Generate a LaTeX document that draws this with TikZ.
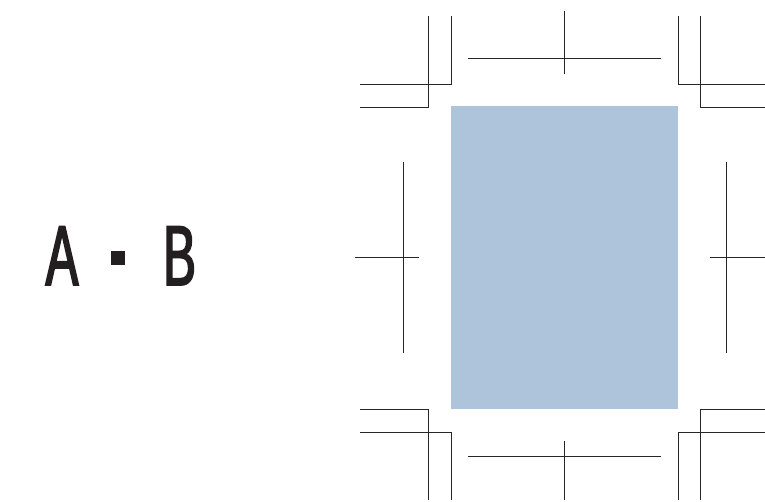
\documentclass[tikz,border=0pt]{standalone}
\usepackage{fontspec}
\usepackage{tikz}
\newfontfamily\condfont[FakeStretch=0.58, FakeBold=2]{Liberation Sans}
\definecolor{paperblue}{RGB}{173,196,219}
\definecolor{inkdark}{RGB}{35,31,32}
\tikzset{
	markline/.style={line width=0.7pt, color=black!85},
	bigletter/.style={inner sep=0pt, color=inkdark, font=\condfont\fontsize{85}{85}\selectfont}
}

\begin{document}
\begin{tikzpicture}[x=1pt, y=-1pt]
			%%%%% START %%%%%
			\useasboundingbox (0, 0) rectangle (765, 501);
			
			\node[bigletter, anchor=base] (a) at (62, 285) {A};
			\node[fill=inkdark, minimum size=14pt, inner sep=0pt] (dot) at (118, 257.5) {};
			\node[bigletter, anchor=base] (b) at (179.5, 285) {B};
			
			\fill[paperblue] (451, 106) rectangle (678, 409);
			
			% corner marks, top
			\draw[markline] (428, 16) -- (428, 107) -- (360, 107);
			\draw[markline] (451, 16) -- (451, 84) -- (360, 84);
			\draw[markline] (700, 16) -- (700, 107) -- (765, 107);
			\draw[markline] (678, 16) -- (678, 84) -- (765, 84);
			
			% corner marks, bottom
			\draw[markline] (428, 500) -- (428, 409) -- (360, 409);
			\draw[markline] (451, 500) -- (451, 432) -- (360, 432);
			\draw[markline] (700, 500) -- (700, 409) -- (765, 409);
			\draw[markline] (678, 500) -- (678, 432) -- (765, 432);
			
			% centre marks
			\draw[markline] (468, 58.5) -- (661, 58.5);
			\draw[markline] (564.5, 11) -- (564.5, 74);
			\draw[markline] (468, 456.5) -- (661, 456.5);
			\draw[markline] (564.5, 441) -- (564.5, 500);
			
			\draw[markline] (403, 162) -- (403, 353);
			\draw[markline] (355, 257.5) -- (419, 257.5);
			\draw[markline] (726, 162) -- (726, 353);
			\draw[markline] (710, 257.5) -- (765, 257.5);
			
			%%%%% END %%%%%
\end{tikzpicture}
\end{document}
